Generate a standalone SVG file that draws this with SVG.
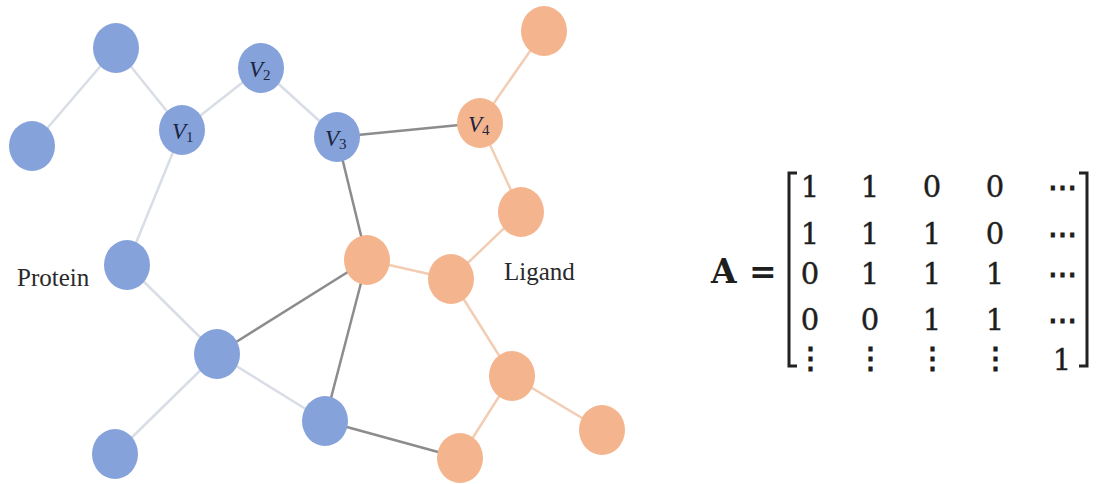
<svg xmlns="http://www.w3.org/2000/svg" width="1099" height="484" viewBox="0 0 1099 484">
<style>
.bn{fill:#86a2db}
.on{fill:#f4b58e}
.eb{stroke:#d9dde6;stroke-width:2.5;fill:none}
.ed{stroke:#8c8c8e;stroke-width:2.5;fill:none}
.eo{stroke:#f2cdb3;stroke-width:2.5;fill:none}
.vl{font-family:"Liberation Serif",serif;font-style:italic;font-size:23px;fill:#1c2540}
.vs{font-size:15px;font-style:normal}
.lab{font-family:"Liberation Serif",serif;font-size:25px;fill:#2a2a2a}
.m{font-family:"DejaVu Serif","Liberation Serif",serif;font-size:29px;fill:#1e1e1e;stroke:#1e1e1e;stroke-width:0.4;text-anchor:middle}
.d{stroke-width:1.2}
.br{stroke:#222;stroke-width:3;fill:none}
</style>
<rect width="1099" height="484" fill="#fff"/>
<g id="connectors">
<line class="eb" x1="116" y1="48" x2="32" y2="146"/>
<line class="eb" x1="116" y1="48" x2="182" y2="130"/>
<line class="eb" x1="182" y1="130" x2="261" y2="68"/>
<line class="eb" x1="261" y1="68" x2="337" y2="137"/>
<line class="eb" x1="182" y1="130" x2="127" y2="265"/>
<line class="eb" x1="127" y1="265" x2="217" y2="354"/>
<line class="eb" x1="217" y1="354" x2="115" y2="454"/>
<line class="eb" x1="217" y1="354" x2="325" y2="421"/>
<line class="ed" x1="337" y1="137" x2="480" y2="123"/>
<line class="ed" x1="337" y1="137" x2="367" y2="260"/>
<line class="ed" x1="217" y1="354" x2="367" y2="260"/>
<line class="ed" x1="367" y1="260" x2="325" y2="421"/>
<line class="ed" x1="325" y1="421" x2="460" y2="458"/>
<line class="eo" x1="544" y1="31" x2="480" y2="123"/>
<line class="eo" x1="480" y1="123" x2="521" y2="212"/>
<line class="eo" x1="521" y1="212" x2="451" y2="279"/>
<line class="eo" x1="367" y1="260" x2="451" y2="279"/>
<line class="eo" x1="451" y1="279" x2="512" y2="376"/>
<line class="eo" x1="512" y1="376" x2="602" y2="430"/>
<line class="eo" x1="512" y1="376" x2="460" y2="458"/>
</g>
<g id="p_top"><ellipse class="bn" cx="116" cy="48" rx="23" ry="25"/></g>
<g id="p_left"><ellipse class="bn" cx="32" cy="146" rx="23" ry="25"/></g>
<g id="v1"><ellipse class="bn" cx="182" cy="130" rx="23" ry="25"/><text class="vl" x="172" y="139">V<tspan class="vs" dy="3">1</tspan></text></g>
<g id="v2"><ellipse class="bn" cx="261" cy="68" rx="23" ry="25"/><text class="vl" x="249" y="77">V<tspan class="vs" dy="3">2</tspan></text></g>
<g id="v3"><ellipse class="bn" cx="337" cy="137" rx="23" ry="25"/><text class="vl" x="325" y="146">V<tspan class="vs" dy="3">3</tspan></text></g>
<g id="p_protein"><ellipse class="bn" cx="127" cy="265" rx="23" ry="25"/></g>
<g id="p_mid"><ellipse class="bn" cx="217" cy="354" rx="23" ry="25"/></g>
<g id="p_bottom"><ellipse class="bn" cx="115" cy="454" rx="23" ry="25"/></g>
<g id="p_lower"><ellipse class="bn" cx="325" cy="421" rx="23" ry="25"/></g>
<g id="l_top"><ellipse class="on" cx="544" cy="31" rx="23" ry="25"/></g>
<g id="v4"><ellipse class="on" cx="480" cy="123" rx="23" ry="25"/><text class="vl" x="468" y="132">V<tspan class="vs" dy="3">4</tspan></text></g>
<g id="l_r1"><ellipse class="on" cx="521" cy="212" rx="23" ry="25"/></g>
<g id="l_center"><ellipse class="on" cx="367" cy="260" rx="23" ry="25"/></g>
<g id="l_lig"><ellipse class="on" cx="451" cy="279" rx="23" ry="25"/></g>
<g id="l_r2"><ellipse class="on" cx="512" cy="376" rx="23" ry="25"/></g>
<g id="l_far"><ellipse class="on" cx="602" cy="430" rx="23" ry="25"/></g>
<g id="l_bottom"><ellipse class="on" cx="460" cy="458" rx="23" ry="25"/></g>
<text class="lab" x="17" y="286">Protein</text>
<text class="lab" x="504" y="280">Ligand</text>
<g id="matrix">
<text x="711" y="283" style="font-family:'DejaVu Serif',serif;font-weight:bold;font-size:33px;fill:#1e1e1e">A</text>
<text x="749" y="283" style="font-family:'DejaVu Serif',serif;font-weight:bold;font-size:33px;fill:#1e1e1e">=</text>
<path class="br" d="M797,173 H789 V366 H797"/>
<path class="br" d="M1079,173 H1087 V366 H1079"/>
<text class="m" x="810" y="197">1</text><text class="m" x="870" y="197">1</text><text class="m" x="932" y="197">0</text><text class="m" x="995" y="197">0</text><text class="m d" x="1062" y="197">⋯</text>
<text class="m" x="810" y="244">1</text><text class="m" x="870" y="244">1</text><text class="m" x="932" y="244">1</text><text class="m" x="995" y="244">0</text><text class="m d" x="1062" y="244">⋯</text>
<text class="m" x="810" y="284">0</text><text class="m" x="870" y="284">1</text><text class="m" x="932" y="284">1</text><text class="m" x="995" y="284">1</text><text class="m d" x="1062" y="284">⋯</text>
<text class="m" x="810" y="330">0</text><text class="m" x="870" y="330">0</text><text class="m" x="932" y="330">1</text><text class="m" x="995" y="330">1</text><text class="m d" x="1062" y="330">⋯</text>
<text class="m d" x="810" y="368">⋮</text><text class="m d" x="870" y="368">⋮</text><text class="m d" x="932" y="368">⋮</text><text class="m d" x="995" y="368">⋮</text><text class="m" x="1062" y="370">1</text>
</g>
</svg>
